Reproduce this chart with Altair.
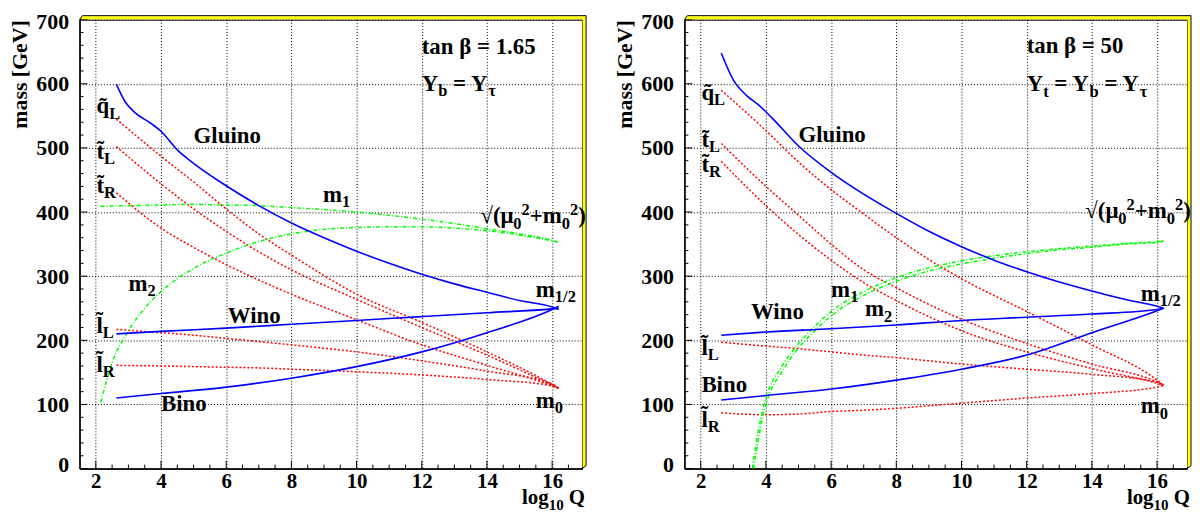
import altair as alt
import pandas as pd

FONT = "Liberation Serif"

# ---------------- layout / axis ranges ----------------
W_PLOT = 506
H_PLOT = 452
X_DOMAIN = [1.5, 16.92]
Y_DOMAIN = [0, 700]
PXU_X = W_PLOT / (X_DOMAIN[1] - X_DOMAIN[0])
PXU_Y = H_PLOT / (Y_DOMAIN[1] - Y_DOMAIN[0])
LABEL_SIZE = 23
TICK_FONT = 21

X_TICK_LABELS = [2, 4, 6, 8, 10, 12, 14, 16]
Y_TICK_LABELS = [0, 100, 200, 300, 400, 500, 600, 700]
X_MINOR = [2.5, 3, 3.5, 4.5, 5, 5.5, 6.5, 7, 7.5, 8.5, 9, 9.5, 10.5, 11, 11.5,
           12.5, 13, 13.5, 14.5, 15, 15.5, 16.5]
Y_MINOR = [20, 40, 60, 80, 120, 140, 160, 180, 220, 240, 260, 280, 320, 340, 360,
           380, 420, 440, 460, 480, 520, 540, 560, 580, 620, 640, 660, 680]

# ---------------- data: left panel (tan beta = 1.65) ----------------
L_GLUINO_X = [2.63, 2.9, 3.2, 3.7, 4.0, 4.5, 5.0, 6.0, 7.0, 8.0, 9.0, 10.0, 11.0, 12.0, 13.0, 14.0, 15.0, 16.0, 16.2]
L_GLUINO_Y = [599, 572, 555, 538, 526, 497, 476, 441, 410, 383, 360, 339, 320, 303, 288, 275, 262, 252, 248]
GAUGINO_X = [2.63, 4, 6, 8, 10, 12, 14, 16, 16.2]
L_WINO = [210, 214, 219, 225, 231, 237, 243, 249, 250]
L_BINO = [110, 117, 127, 141, 159, 182, 212, 248, 253]
SFERM_X = [2.63, 4, 5, 6, 7, 8, 10, 12, 14, 16, 16.2]
L_QL = [545, 487, 447, 405, 366, 333, 272, 228, 182, 131, 125]
L_TL = [502, 444, 405, 370, 338, 310, 264, 220, 177, 130, 125]
L_TR = [430, 375, 345, 318, 294, 272, 232, 193, 161, 129, 125]
L_LL = [217, 212, 208, 203, 198, 193, 182, 168, 152, 132, 125]
L_LR = [161, 160, 159, 158, 157, 155, 151, 146, 139, 129, 125]
L_M1_X = [2.15, 3, 4, 5, 6, 7, 8, 9, 10, 11, 12, 13, 14, 15, 16, 16.2]
L_M1_Y = [409, 410, 411, 412, 411, 410, 407, 404, 400, 395, 389, 382, 374, 366, 356, 353]
L_M2_X = [2.15, 2.5, 3, 3.5, 4, 5, 6, 7, 8, 9, 10, 11, 12, 13, 14, 15, 16, 16.2]
L_M2_Y = [103, 165, 215, 250, 276, 312, 336, 354, 366, 373, 376, 377, 377, 375, 371, 364, 355, 353]

# ---------------- data: right panel (tan beta = 50) ----------------
R_GLUINO_X = [2.63, 3.0, 3.4, 3.8, 4.2, 5, 6, 7, 8, 9, 10, 11, 12, 13, 14, 15, 16, 16.2]
R_GLUINO_Y = [648, 606, 582, 566, 546, 503, 462, 428, 398, 370, 346, 325, 307, 291, 277, 264, 253, 250]
R_WINO = [208, 213, 218, 224, 231, 236, 241, 248, 250]
R_BINO = [107, 114, 124, 138, 155, 177, 212, 246, 250]
R_SF_X = [2.63, 4, 5, 6, 7, 8, 9, 10, 12, 14, 16, 16.2]
R_QL = [590, 527, 478, 435, 397, 360, 326, 296, 245, 193, 138, 130]
R_TL = [507, 440, 395, 350, 310, 282, 256, 233, 195, 163, 135, 130]
R_TR = [479, 410, 365, 325, 290, 262, 237, 215, 182, 156, 133, 130]
R_LL = [197, 191, 187, 182, 177, 173, 168, 163, 155, 147, 135, 130]
R_LR = [87, 84, 85, 89, 91, 94, 98, 102, 110, 117, 127, 130]
R_M1_X = [3.58, 3.7, 3.85, 4, 4.5, 5, 5.5, 6, 7, 8, 9, 10, 11, 12, 13, 14, 15, 16, 16.2]
R_M1_Y = [0, 40, 80, 110, 160, 195, 222, 245, 276, 298, 313, 324, 332, 338, 343, 347, 351, 354, 355]
R_M2_X = [3.62, 3.75, 3.9, 4.05, 4.5, 5, 5.5, 6, 7, 8, 9, 10, 11, 12, 13, 14, 15, 16, 16.2]
R_M2_Y = [0, 40, 80, 108, 152, 188, 215, 238, 270, 292, 308, 319, 328, 335, 341, 345, 350, 353, 355]

# ---------------- labels (x of left edge, y of centre, rich segments) ----------------
L_LABELS = [
    (12.0, 658, [("tan β = 1.65", "n")]),
    (12.0, 600, [("Y", "n"), ("b", "sub"), (" = Y", "n"), ("τ", "sub")]),
    (5.0, 519, [("Gluino", "n")]),
    (8.97, 427, [("m", "n"), ("1", "sub")]),
    (13.8, 393, [("√(μ", "n"), ("0", "sub"), ("2", "sup"), ("+m", "n"), ("0", "sub"), ("2", "sup"), (")", "n")]),
    (2.02, 565, [("q\u0303", "n"), ("L", "sub")]),
    (2.02, 494, [("t\u0303", "n"), ("L", "sub")]),
    (2.02, 441, [("t\u0303", "n"), ("R", "sub")]),
    (3.0, 288, [("m", "n"), ("2", "sub")]),
    (2.02, 223, [("l\u0303", "n"), ("L", "sub")]),
    (2.02, 162, [("l\u0303", "n"), ("R", "sub")]),
    (6.05, 238, [("Wino", "n")]),
    (4.0, 101, [("Bino", "n")]),
    (15.5, 279, [("m", "n"), ("1/2", "sub")]),
    (15.5, 106, [("m", "n"), ("0", "sub")]),
]
R_LABELS = [
    (12.0, 659, [("tan β = 50", "n")]),
    (12.0, 599, [("Y", "n"), ("t", "sub"), (" = Y", "n"), ("b", "sub"), (" = Y", "n"), ("τ", "sub")]),
    (5.0, 520, [("Gluino", "n")]),
    (2.02, 586, [("q\u0303", "n"), ("L", "sub")]),
    (2.02, 512, [("t\u0303", "n"), ("L", "sub")]),
    (2.02, 474, [("t\u0303", "n"), ("R", "sub")]),
    (13.8, 401, [("√(μ", "n"), ("0", "sub"), ("2", "sup"), ("+m", "n"), ("0", "sub"), ("2", "sup"), (")", "n")]),
    (6.0, 279, [("m", "n"), ("1", "sub")]),
    (7.04, 248, [("m", "n"), ("2", "sub")]),
    (3.54, 244, [("Wino", "n")]),
    (2.02, 188, [("l\u0303", "n"), ("L", "sub")]),
    (2.02, 130, [("Bino", "n")]),
    (2.02, 76, [("l\u0303", "n"), ("R", "sub")]),
    (15.5, 272, [("m", "n"), ("1/2", "sub")]),
    (15.5, 97, [("m", "n"), ("0", "sub")]),
]
X_TITLE = [("log", "n"), ("10", "sub"), (" Q", "n")]
Y_TITLE = "mass [GeV]"

# approximate advance widths of Times-like bold glyphs (per 1000 em)
GLYPH_W = {' ': 250, '(': 333, ')': 333, '+': 570, '=': 570, '/': 278, '.': 250,
           'a': 500, 'b': 556, 'e': 444, 'g': 500, 'i': 278, 'l': 278, 'm': 833, 'n': 556,
           'o': 500, 'q': 556, 's': 389, 't': 333, 'u': 556, 'B': 667, 'G': 778, 'L': 667,
           'Q': 778, 'R': 722, 'W': 1000, 'Y': 722, 'β': 556, 'τ': 450, 'μ': 556, '√': 549,
           '\u0303': 0}


def text_w(s):
    return sum(GLYPH_W.get(c, 500) for c in s) / 1000.0


def seg_style(kind, size):
    if kind == "sub":
        return size * 0.72, size * 0.32
    if kind == "sup":
        return size * 0.72, -size * 0.30
    return size, 0.0


def rich_rows(x0, y0, segs, size):
    rows = []
    cx = 0.0
    for txt, kind in segs:
        s, dy = seg_style(kind, size)
        body = txt.lstrip(" ")
        cx += text_w(txt[: len(txt) - len(body)]) * s  # SVG drops leading blanks
        rows.append({"x": x0 + cx / PXU_X, "y": y0 - dy / PXU_Y, "t": body, "s": s})
        cx += text_w(body) * s
    return rows, cx


def xenc():
    return alt.X("x:Q", scale=alt.Scale(domain=X_DOMAIN, nice=False, zero=False),
                 axis=alt.Axis(values=X_TICK_LABELS, format="d", ticks=False, grid=True,
                               gridDash=[1, 2], gridColor="black", gridWidth=1,
                               labelFontSize=TICK_FONT, labelPadding=2, labelFlush=False,
                               labelOverlap=False, title=None))


def yenc():
    return alt.Y("y:Q", scale=alt.Scale(domain=Y_DOMAIN, nice=False, zero=False),
                 axis=alt.Axis(values=Y_TICK_LABELS, format="d", ticks=False, grid=True,
                               gridDash=[1, 2], gridColor="black", gridWidth=1,
                               labelFontSize=22, labelPadding=11, labelOverlap=False,
                               labelFlush=True, labelFlushOffset=8,
                               title=Y_TITLE, titleFontSize=LABEL_SIZE - 1, titleAnchor="end",
                               titlePadding=4))


def build_panel(series, labels):
    rows = []
    for name, style, xs, ys in series:
        for i, (a, b) in enumerate(zip(xs, ys)):
            rows.append({"series": name, "style": style, "x": a, "y": b, "i": i})
    df = pd.DataFrame(rows)

    layers = []
    styles = [
        ("red", {"color": "#ff0000", "strokeWidth": 1.5, "strokeDash": [2, 2]}),
        ("green", {"color": "#00ff00", "strokeWidth": 1.5, "strokeDash": [4, 2, 1, 2]}),
        ("blue", {"color": "#0000ff", "strokeWidth": 1.6}),
    ]
    for st, kw in styles:
        layers.append(
            alt.Chart(df[df["style"] == st]).mark_line(interpolate="monotone", clip=True, **kw)
            .encode(x=xenc(), y=yenc(), detail="series:N", order="i:Q")
        )

    # inward ticks
    xmaj = pd.DataFrame({"x": X_TICK_LABELS})
    xmin = pd.DataFrame({"x": X_MINOR})
    ymaj = pd.DataFrame({"y": Y_TICK_LABELS})
    ymin = pd.DataFrame({"y": Y_MINOR})
    layers.append(alt.Chart(xmaj).mark_rule(color="black", strokeWidth=1)
                  .encode(x=xenc(), y=alt.value(H_PLOT), y2=alt.value(H_PLOT - 8)))
    layers.append(alt.Chart(xmin).mark_rule(color="black", strokeWidth=1)
                  .encode(x=xenc(), y=alt.value(H_PLOT), y2=alt.value(H_PLOT - 4)))
    layers.append(alt.Chart(ymaj).mark_rule(color="black", strokeWidth=1)
                  .encode(y=yenc(), x=alt.value(0), x2=alt.value(8)))
    layers.append(alt.Chart(ymin).mark_rule(color="black", strokeWidth=1)
                  .encode(y=yenc(), x=alt.value(0), x2=alt.value(4)))

    # yellow 3D frame (top and right edges)
    one = pd.DataFrame({"k": [0]})
    layers.append(alt.Chart(one).mark_rule(color="#ffff00", strokeWidth=3)
                  .encode(x=alt.value(1.5), x2=alt.value(W_PLOT + 3), y=alt.value(-2)))
    layers.append(alt.Chart(one).mark_rule(color="#ffff00", strokeWidth=3)
                  .encode(x=alt.value(W_PLOT + 2), y=alt.value(-3), y2=alt.value(H_PLOT - 1.5)))
    layers.append(alt.Chart(one).mark_rule(color="black", strokeWidth=1)
                  .encode(x=alt.value(3), x2=alt.value(W_PLOT + 4), y=alt.value(-4)))
    layers.append(alt.Chart(one).mark_rule(color="black", strokeWidth=1)
                  .encode(x=alt.value(W_PLOT + 4), y=alt.value(-4), y2=alt.value(H_PLOT - 3)))
    layers.append(alt.Chart(one).mark_rule(color="black", strokeWidth=1)
                  .encode(x=alt.value(0), x2=alt.value(3), y=alt.value(0), y2=alt.value(-4)))
    layers.append(alt.Chart(one).mark_rule(color="black", strokeWidth=1)
                  .encode(x=alt.value(W_PLOT), x2=alt.value(W_PLOT + 4), y=alt.value(H_PLOT), y2=alt.value(H_PLOT - 3)))

    # annotation text
    trows = []
    for x0, y0, segs in labels:
        r, _ = rich_rows(x0, y0, segs, LABEL_SIZE)
        trows += r
    # x-axis title, right aligned at the frame edge, below the tick labels
    _, wtot = rich_rows(0, 0, X_TITLE, 21)
    r, _ = rich_rows(X_DOMAIN[1] + 3 / PXU_X - wtot / PXU_X, -30 / PXU_Y, X_TITLE, 21)
    trows += r
    tdf = pd.DataFrame(trows)
    layers.append(alt.Chart(tdf).mark_text(align="left", baseline="middle", font=FONT,
                                           fontWeight="bold", color="black")
                  .encode(x=xenc(), y=yenc(), text="t:N",
                          size=alt.Size("s:Q", scale=None, legend=None)))

    return alt.layer(*layers).properties(width=W_PLOT, height=H_PLOT)


left = build_panel([
    ("gluino", "blue", L_GLUINO_X, L_GLUINO_Y),
    ("wino", "blue", GAUGINO_X, L_WINO),
    ("bino", "blue", GAUGINO_X, L_BINO),
    ("qL", "red", SFERM_X, L_QL),
    ("tL", "red", SFERM_X, L_TL),
    ("tR", "red", SFERM_X, L_TR),
    ("lL", "red", SFERM_X, L_LL),
    ("lR", "red", SFERM_X, L_LR),
    ("m1", "green", L_M1_X, L_M1_Y),
    ("m2", "green", L_M2_X, L_M2_Y),
], L_LABELS)

right = build_panel([
    ("gluino", "blue", R_GLUINO_X, R_GLUINO_Y),
    ("wino", "blue", GAUGINO_X, R_WINO),
    ("bino", "blue", GAUGINO_X, R_BINO),
    ("qL", "red", R_SF_X, R_QL),
    ("tL", "red", R_SF_X, R_TL),
    ("tR", "red", R_SF_X, R_TR),
    ("lL", "red", R_SF_X, R_LL),
    ("lR", "red", R_SF_X, R_LR),
    ("m1", "green", R_M1_X, R_M1_Y),
    ("m2", "green", R_M2_X, R_M2_Y),
], R_LABELS)

chart = (
    alt.hconcat(left, right, spacing=26)
    .properties(padding={"left": 0, "top": 0, "right": 0, "bottom": 0}, background="white")
    .configure_view(stroke="black", strokeWidth=1)
    .configure_axis(domainColor="black", domainWidth=1.5, labelColor="black", titleColor="black",
                    labelFont=FONT, titleFont=FONT, labelFontWeight="bold", titleFontWeight="bold")
)

chart.save("out.html", embed_options={"renderer": "svg", "actions": False})
